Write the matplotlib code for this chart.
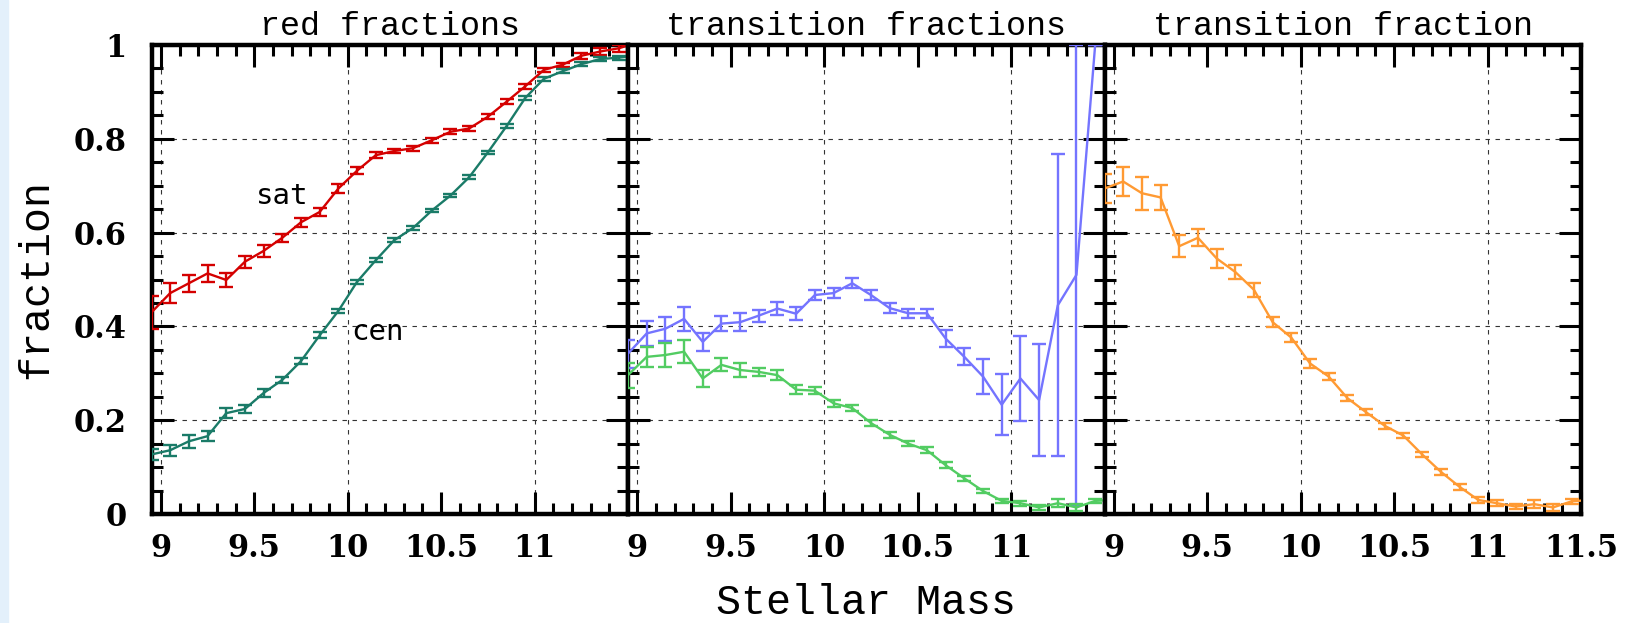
import matplotlib
matplotlib.use("Agg")
import matplotlib.pyplot as plt
from matplotlib.patches import Rectangle
from matplotlib.ticker import MultipleLocator, FixedLocator

# stellar mass bins (bin centres)
mass = [8.95, 9.05, 9.15, 9.25, 9.35, 9.45, 9.55, 9.65, 9.75, 9.85,
        9.95, 10.05, 10.15, 10.25, 10.35, 10.45, 10.55, 10.65, 10.75, 10.85,
        10.95, 11.05, 11.15, 11.25, 11.35, 11.45, 11.55]

# red fractions
red_sat = [0.430, 0.471, 0.492, 0.513, 0.499, 0.538, 0.561, 0.589, 0.622, 0.644,
           0.694, 0.732, 0.765, 0.774, 0.780, 0.797, 0.815, 0.822, 0.847, 0.879,
           0.912, 0.947, 0.958, 0.977, 0.986, 0.993, 1.005]
red_sat_err = [0.035, 0.021, 0.018, 0.018, 0.014, 0.013, 0.012, 0.009, 0.010, 0.009,
               0.009, 0.007, 0.006, 0.005, 0.005, 0.005, 0.005, 0.005, 0.005, 0.005,
               0.005, 0.004, 0.004, 0.006, 0.007, 0.007, 0.007]
red_cen = [0.127, 0.136, 0.155, 0.166, 0.215, 0.224, 0.258, 0.286, 0.326, 0.381,
           0.433, 0.495, 0.541, 0.584, 0.610, 0.647, 0.679, 0.718, 0.771, 0.827,
           0.887, 0.928, 0.944, 0.959, 0.970, 0.973, 0.978]
red_cen_err = [0.012, 0.012, 0.014, 0.011, 0.010, 0.008, 0.008, 0.007, 0.007, 0.006,
               0.005, 0.005, 0.004, 0.004, 0.004, 0.004, 0.004, 0.004, 0.004, 0.004,
               0.004, 0.004, 0.004, 0.004, 0.004, 0.004, 0.004]

# transition fractions
tr_sat = [0.342, 0.385, 0.395, 0.416, 0.367, 0.406, 0.409, 0.423, 0.438, 0.427,
          0.467, 0.471, 0.492, 0.467, 0.439, 0.428, 0.428, 0.374, 0.335, 0.293,
          0.233, 0.289, 0.243, 0.445, 0.510, 1.000, 1.000]
tr_sat_err = [0.030, 0.027, 0.026, 0.025, 0.019, 0.016, 0.019, 0.013, 0.014, 0.014,
              0.011, 0.010, 0.011, 0.010, 0.010, 0.010, 0.010, 0.018, 0.018, 0.038,
              0.065, 0.090, 0.120, 0.322, 0.490, 0.000, 0.000]
tr_cen = [0.296, 0.335, 0.339, 0.346, 0.289, 0.318, 0.307, 0.303, 0.296, 0.265,
          0.263, 0.236, 0.226, 0.194, 0.169, 0.150, 0.136, 0.104, 0.076, 0.049,
          0.028, 0.023, 0.014, 0.023, 0.014, 0.028, 0.030]
tr_cen_err = [0.027, 0.021, 0.026, 0.025, 0.019, 0.014, 0.014, 0.009, 0.010, 0.009,
              0.008, 0.007, 0.007, 0.007, 0.006, 0.006, 0.006, 0.006, 0.006, 0.005,
              0.005, 0.005, 0.005, 0.008, 0.008, 0.005, 0.005]

# transition fraction (all)
tr_all = [0.694, 0.709, 0.684, 0.675, 0.571, 0.589, 0.545, 0.516, 0.478, 0.409,
          0.376, 0.321, 0.293, 0.247, 0.217, 0.188, 0.167, 0.127, 0.090, 0.058,
          0.030, 0.023, 0.016, 0.021, 0.014, 0.027, 0.030]
tr_all_err = [0.030, 0.031, 0.035, 0.027, 0.024, 0.018, 0.021, 0.015, 0.015, 0.011,
              0.010, 0.009, 0.007, 0.007, 0.006, 0.006, 0.006, 0.006, 0.006, 0.006,
              0.006, 0.006, 0.005, 0.008, 0.008, 0.005, 0.005]

titles = ["red fractions", "transition fractions", "transition fraction"]
xtick_vals = [9, 9.5, 10, 10.5, 11, 11.5]
xtick_labels = ["9", "9.5", "10", "10.5", "11", "11.5"]
ytick_vals = [0, 0.2, 0.4, 0.6, 0.8, 1.0]
ytick_labels = ["0", "0.2", "0.4", "0.6", "0.8", "1"]

mono = "Liberation Mono"
tickfont = {"family": "DejaVu Serif", "weight": "bold", "size": 22}

fig = plt.figure(figsize=(16.35, 6.23), dpi=100)
# thin light-blue strip along the left edge
fig.patches.append(Rectangle((0, 0), 8 / 1635, 1, transform=fig.transFigure,
                             color="#e3f0fb", zorder=0))

W, H = 1635.0, 623.0
left, right, top, bottom = 151.5, 1581.0, 45.0, 514.0
pw = (right - left) / 3

series = [
    [(red_sat, red_sat_err, "#d40000"), (red_cen, red_cen_err, "#1a7b68")],
    [(tr_sat, tr_sat_err, "#7474ff"), (tr_cen, tr_cen_err, "#52cc62")],
    [(tr_all, tr_all_err, "#ff9a33")],
]

for i in range(3):
    ax = fig.add_axes([(left + i * pw) / W, (H - bottom) / H, pw / W, (bottom - top) / H])
    for y, e, c in series[i]:
        ax.errorbar(mass, y, yerr=e, color=c, lw=1.7, elinewidth=1.7,
                    capsize=5, capthick=1.7, zorder=3)
    ax.set_xlim(8.95, 11.5)
    ax.set_ylim(0, 1)
    # dotted grid only at integer masses and every 0.2 in fraction
    for gx in [9, 10, 11]:
        ax.axvline(gx, color="#333333", lw=0.8, ls=(0, (4, 5)), zorder=1)
    for gy in [0.2, 0.4, 0.6, 0.8]:
        ax.axhline(gy, color="#333333", lw=0.8, ls=(0, (4, 5)), zorder=1)

    ax.xaxis.set_major_locator(FixedLocator(xtick_vals))
    ax.xaxis.set_minor_locator(MultipleLocator(0.1))
    ax.yaxis.set_major_locator(FixedLocator(ytick_vals))
    ax.yaxis.set_minor_locator(MultipleLocator(0.05))
    ax.tick_params(which="both", direction="in", top=True, right=True, width=2.2)
    ax.tick_params(which="major", length=16)
    ax.tick_params(which="minor", length=8)
    ax.tick_params(axis="x", which="major", pad=14)
    ax.tick_params(axis="y", which="major", pad=18)
    if i < 2:
        ax.set_xticklabels(xtick_labels[:-1] + [""], fontdict=tickfont)
    else:
        ax.set_xticklabels(xtick_labels, fontdict=tickfont)
    if i == 0:
        ax.set_yticklabels(ytick_labels, fontdict=tickfont)
    else:
        ax.set_yticklabels([])
    for s in ax.spines.values():
        s.set_linewidth(3.2)
    ax.set_title(titles[i], family=mono, fontsize=24, pad=7)

    if i == 0:
        ax.text(9.65, 0.661, "sat", family="DejaVu Sans Mono", fontsize=21,
                ha="center", va="baseline")
        ax.text(10.16, 0.371, "cen", family="DejaVu Sans Mono", fontsize=21,
                ha="center", va="baseline")

fig.text(866 / W, 9 / H, "Stellar Mass", family=mono, fontsize=30,
         ha="center", va="baseline")
fig.text(47 / W, 1 - 279.5 / H, "fraction", family=mono, fontsize=30,
         rotation=90, rotation_mode="anchor", ha="center", va="baseline")

fig.savefig("out.png", dpi=100)
